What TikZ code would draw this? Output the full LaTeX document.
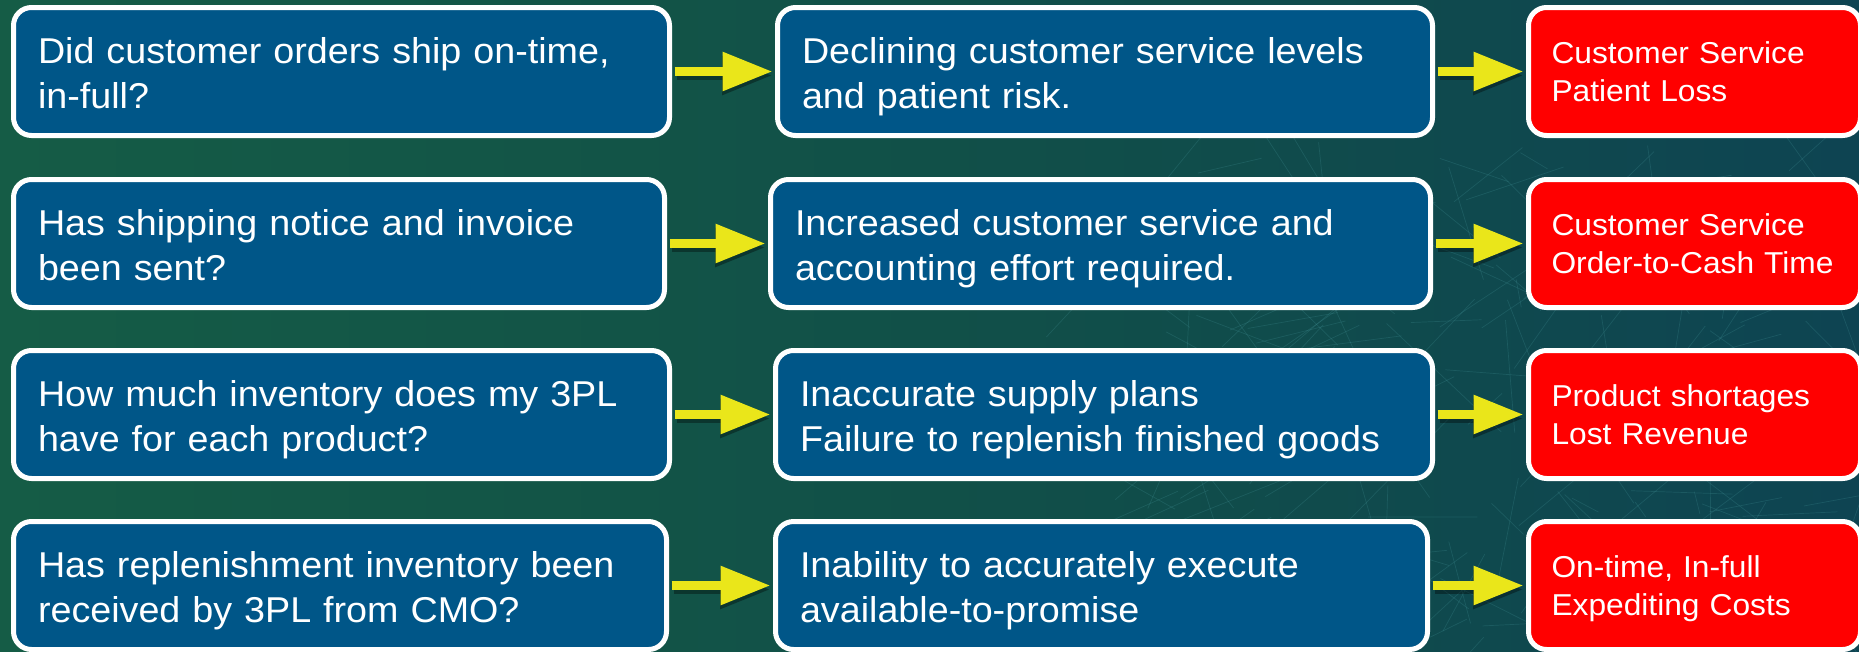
\documentclass[tikz,border=0pt]{standalone}
\usepackage{fontspec}
\setmainfont[FakeStretch=1.05]{Liberation Sans}
\usetikzlibrary{arrows.meta}
\definecolor{bgL}{RGB}{21,92,70}
\definecolor{bgM}{RGB}{17,80,72}
\definecolor{bgR}{RGB}{14,68,82}
\definecolor{boxblue}{RGB}{0,86,136}
\definecolor{alarmred}{RGB}{255,0,0}
\definecolor{arrowyellow}{RGB}{234,230,26}
\definecolor{meshcol}{RGB}{70,150,155}
\tikzset{
  basebox/.style={draw=white, line width=5pt, rounded corners=18pt,
    inner xsep=23pt, inner ysep=0pt, align=left, text=white,
    minimum height=128pt},
  bluebox/.style={basebox, inner xsep=24.5pt, fill=boxblue,
    font=\fontsize{35.9}{45.7}\selectfont,
    text height=29pt, text depth=45.7pt},
  redbox/.style={basebox, fill=alarmred, font=\fontsize{30.2}{38.4}\selectfont,
    text height=22pt, text depth=38.4pt, text width=286pt},
  flow/.style={draw=arrowyellow, line width=9pt,
    -{Triangle[length=50pt,width=37pt]}, shorten <=2.5pt, shorten >=2.5pt},
  flowshadow/.style={draw=black, opacity=.35, line width=9pt,
    -{Triangle[length=50pt,width=37pt]}, shorten <=2.5pt, shorten >=5pt},
  meshline/.style={draw=meshcol, opacity=.24, line width=.7pt}
}
\begin{document}
\begin{tikzpicture}[x=1pt,y=-1pt]
\clip (0,0) rectangle (1859,651);
\shade[left color=bgL, right color=bgR, middle color=bgM] (0,0) rectangle (1859,651);
% faint network mesh (background texture)
\pgfmathsetseed{42}
\foreach \i in {1,...,220}{
  \pgfmathsetmacro\xa{1150+720*rnd}
  \pgfmathsetmacro\ya{160+500*rnd}
  \pgfmathsetmacro\xb{\xa+(rnd-0.5)*240}
  \pgfmathsetmacro\yb{\ya+(rnd-0.5)*240}
  \draw[meshline] (\xa,\ya) -- (\xb,\yb);
}
% column A
\node[bluebox, text width=607pt] (a1) at (341.5,71.5) {Did customer orders ship on-time,\\in-full?};
\node[bluebox, text width=602pt] (a2) at (339,243.5) {Has shipping notice and invoice\\been sent?};
\node[bluebox, text width=607pt] (a3) at (341.5,414.5) {How much inventory does my 3PL\\have for each product?};
\node[bluebox, text width=604pt] (a4) at (340,585.5) {Has replenishment inventory been\\received by 3PL from CMO?};
% column B
\node[bluebox, text width=606pt] (b1) at (1105,71.5) {Declining customer service levels\\and patient risk.};
\node[bluebox, text width=611pt] (b2) at (1100.5,243.5) {Increased customer service and\\accounting effort required.};
\node[bluebox, text width=608pt] (b3) at (1104,414.5) {Inaccurate supply plans\\Failure to replenish finished goods};
\node[bluebox, text width=603pt] (b4) at (1101.5,585.5) {Inability to accurately execute\\available-to-promise};
% column C
\node[redbox] (c1) at (1694.5,71.5) {Customer Service\\Patient Loss};
\node[redbox] (c2) at (1694.5,243.5) {Customer Service\\Order-to-Cash Time};
\node[redbox] (c3) at (1694.5,414.5) {Product shortages\\Lost Revenue};
\node[redbox] (c4) at (1694.5,585.5) {On-time, In-full\\Expediting Costs};
% arrows
\foreach \r in {1,2,3,4}{
  \draw[flowshadow, transform canvas={shift={(2pt,-4pt)}}] (a\r.east) -- (b\r.west);
  \draw[flow] (a\r.east) -- (b\r.west);
  \draw[flowshadow, transform canvas={shift={(2pt,-4pt)}}] (b\r.east) -- (c\r.west);
  \draw[flow] (b\r.east) -- (c\r.west);
}
\end{tikzpicture}
\end{document}
